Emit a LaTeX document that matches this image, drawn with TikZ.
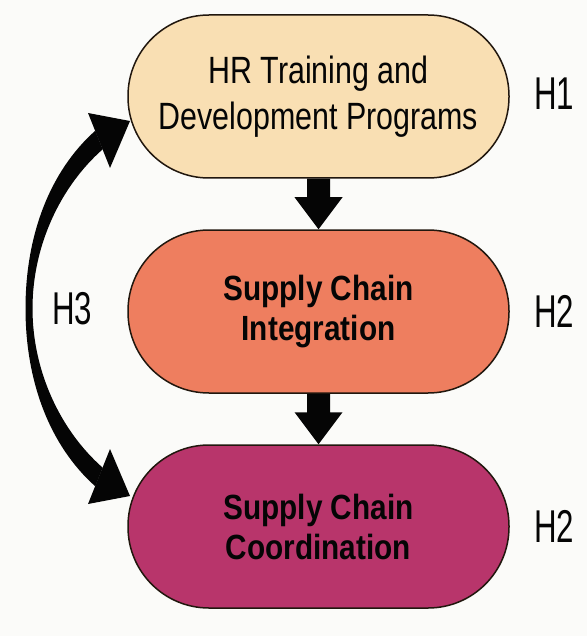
\documentclass[tikz,border=0pt]{standalone}
\usepackage{fontspec}
\setmainfont{Liberation Sans}
\newfontfamily\nodefont{Liberation Sans}[FakeStretch=0.80]
\newfontfamily\boldnodefont{Liberation Sans Bold}[FakeStretch=0.85]
\newfontfamily\labfont{Liberation Sans}[FakeStretch=0.68]
\usetikzlibrary{calc}
\definecolor{bgcol}{HTML}{FBFBF9}
\definecolor{peach}{HTML}{F9DFB3}
\definecolor{coral}{HTML}{EE7E5F}
\definecolor{berry}{HTML}{B8356B}
\definecolor{ink}{HTML}{050505}
\begin{document}
\begin{tikzpicture}[x=1pt,y=-1pt,
  stage/.style={draw=ink!85!brown, line width=1.5pt, minimum width=381pt,
    minimum height=163pt, rounded corners=81pt, align=center, inner sep=0pt,
    text=ink},
  lighttext/.style={font=\nodefont\fontsize{38}{46}\selectfont},
  boldtext/.style={font=\boldnodefont\fontsize{35}{40}\selectfont},
  hlabel/.style={font=\labfont\fontsize{46}{50}\selectfont, text=ink, inner sep=0pt}]
\fill[bgcol] (0,0) rectangle (587,636);
\useasboundingbox (0,0) rectangle (587,636);

\node[stage, lighttext, fill=peach] (n1) at (318.5,96.5) {HR Training and\\Development Programs};
\node[stage, boldtext, fill=coral] (n2) at (318.5,311.5) {Supply Chain\\Integration};
\node[stage, boldtext, fill=berry] (n3) at (318.5,526.5) {Supply Chain\\Coordination};

\node[hlabel] (h1) at (554,94) {H1};
\node[hlabel] (h2a) at (554,311) {H2};
\node[hlabel] (h2b) at (554,526) {H2};
\node[hlabel] (h3) at (72,309) {H3};

% block arrows
\fill[ink] ($(n1.south)+(-11.5,0)$) -- ($(n2.north)+(-11.5,-32)$) -- ($(n2.north)+(-24,-32)$)
  -- (n2.north) -- ($(n2.north)+(24,-32)$) -- ($(n2.north)+(11.5,-32)$) -- ($(n1.south)+(11.5,0)$) -- cycle;
\fill[ink] ($(n2.south)+(-11.5,0)$) -- ($(n3.north)+(-11.5,-32)$) -- ($(n3.north)+(-24,-32)$)
  -- (n3.north) -- ($(n3.north)+(24,-32)$) -- ($(n3.north)+(11.5,-32)$) -- ($(n2.south)+(11.5,0)$) -- cycle;

% curved double arrow H3
\coordinate (t1) at (130,121);
\coordinate (t3) at (130,496);
\fill[ink] (95.3,130.7) .. controls (50,171) and (25.5,235) .. (25.5,308.5)
  .. controls (25.5,382) and (50,446) .. (95.3,486.3)
  -- (102.7,467.7) .. controls (61,431) and (32.5,372) .. (32.5,308.5)
  .. controls (32.5,245) and (61,186) .. (102.7,149.3) -- cycle;
\fill[ink] (88,113) -- (t1) -- (110,168) -- cycle;
\fill[ink] (88,504) -- (t3) -- (110,449) -- cycle;
\end{tikzpicture}
\end{document}
